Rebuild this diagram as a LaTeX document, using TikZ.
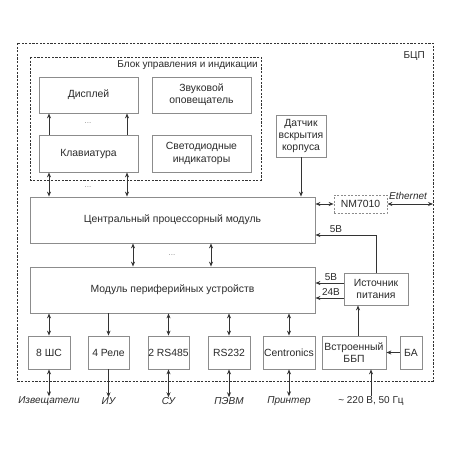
\documentclass[tikz,border=0pt]{standalone}
\usepackage{fontspec}
\setmainfont{Liberation Sans}
\usetikzlibrary{arrows.meta}
\definecolor{boxc}{HTML}{8C8C8C}
\definecolor{arrc}{HTML}{333333}
\definecolor{txtc}{HTML}{2A2A2A}
\begin{document}
\begin{tikzpicture}[x=1pt,y=-1pt,
  box/.style={draw=boxc, line width=0.8pt, fill=white, inner sep=0pt, align=center,
    text=txtc, font=\fontsize{10.4}{12.2}\selectfont},
  dashbox/.style={draw=arrc, line width=0.9pt, dash pattern=on 2.2pt off 1.4pt},
  arr/.style={-{Stealth[length=5pt,width=4pt]}, line width=0.9pt, draw=arrc},
  darr/.style={{Stealth[length=5pt,width=4pt]}-{Stealth[length=5pt,width=4pt]}, line width=0.9pt, draw=arrc},
  lbl/.style={inner sep=0pt, text=txtc, font=\fontsize{10}{12}\selectfont},
  ilbl/.style={inner sep=0pt, text=txtc, font=\fontsize{10}{12}\selectfont\itshape},
  dots/.style={inner sep=0pt, text=black!45, font=\fontsize{8}{10}\selectfont}
]
\useasboundingbox (0,0) rectangle (450,450);
\fill[white] (0,0) rectangle (450,450);

% outer and inner dashed frames
\draw[dashbox] (17,43) rectangle (433,381);
\draw[dashbox] (30,57) rectangle (261,180);
\node[lbl, anchor=east] (bcp) at (425,56) {БЦП};
\node[lbl, anchor=east] (bui) at (258,65) {Блок управления и индикации};

% control block
\node[box, minimum width=99pt, minimum height=36pt] (disp) at (88.5,95) {Дисплей};
\node[box, minimum width=99pt, minimum height=36pt] (zvuk) at (201.5,95) {Звуковой\\оповещатель};
\node[box, minimum width=99pt, minimum height=37pt] (kbd) at (88.5,153.5) {Клавиатура};
\node[box, minimum width=99pt, minimum height=37pt] (led) at (201.5,153.5) {Светодиодные\\индикаторы};

% main modules
\node[box, minimum width=285pt, minimum height=46pt] (cpu) at (172.5,220) {Центральный процессорный модуль};
\node[box, minimum width=285pt, minimum height=46pt] (per) at (172.5,290) {Модуль периферийных устройств};

\node[box, minimum width=50pt, minimum height=42pt] (dat) at (301,136) {Датчик\\вскрытия\\корпуса};
\node[box, draw=boxc, dash pattern=on 2pt off 1.5pt, minimum width=53pt, minimum height=18pt] (nm) at (360.5,204) {NM7010};
\node[box, minimum width=64pt, minimum height=32pt] (ist) at (376,289) {Источник\\питания};

% bottom row
\node[box, minimum width=42pt, minimum height=33pt] (shs) at (49,352.5) {8 ШС};
\node[box, minimum width=41pt, minimum height=33pt] (rele) at (108.5,352.5) {4 Реле};
\node[box, minimum width=41pt, minimum height=33pt] (rs485) at (168.5,352.5) {2 RS485};
\node[box, minimum width=42pt, minimum height=33pt] (rs232) at (229,352.5) {RS232};
\node[box, minimum width=52pt, minimum height=33pt] (cen) at (289,352.5) {Centronics};
\node[box, minimum width=64pt, minimum height=33pt] (bbp) at (354,352.5) {Встроенный\\ББП};
\node[box, minimum width=22pt, minimum height=33pt] (ba) at (411,352.5) {БА};

% bottom labels
\node[ilbl] (l1) at (49,401) {Извещатели};
\node[ilbl] (l2) at (108.5,401) {ИУ};
\node[ilbl] (l3) at (168.5,401) {СУ};
\node[ilbl] (l4) at (229,401) {ПЭВМ};
\node[ilbl] (l5) at (289,401) {Принтер};
\node[lbl] (l6) at (371,401) {\textasciitilde{} 220 В, 50 Гц};

% helper coordinates
\coordinate (x49) at (49,0);
\coordinate (x127) at (127,0);
\coordinate (x133) at (133,0);
\coordinate (x211) at (211,0);
\coordinate (x358) at (358,0);
\coordinate (x371) at (371,0);
\coordinate (x376) at (376,0);
\coordinate (y235) at (0,235);
\coordinate (y283) at (0,283);
\coordinate (y298) at (0,298);
\coordinate (eth) at (433,204);

% arrows in control block
\draw[arr] (kbd.north -| x49) -- (disp.south -| x49);
\draw[arr] (kbd.north -| x127) -- (disp.south -| x127);
\node[dots] (d1) at (88,123) {...};
\draw[darr] (kbd.south -| x49) -- (cpu.north -| x49);
\draw[darr] (kbd.south -| x127) -- (cpu.north -| x127);
\node[dots] (d2) at (88,187) {...};

% cpu <-> peripheral
\draw[darr] (cpu.south -| x133) -- (per.north -| x133);
\draw[darr] (cpu.south -| x211) -- (per.north -| x211);
\node[dots] (d3) at (172,255) {...};

% sensor
\draw[arr] (dat.south) -- (dat.south |- cpu.north);

% ethernet
\draw[darr] (cpu.east |- nm.west) -- (nm.west);
\draw[darr] (nm.east) -- (eth);
\node[ilbl, anchor=south] (ethl) at (408,200) {Ethernet};

% power
\draw[arr] (ist.north -| x376) -- (y235 -| x376) -- (cpu.east |- y235);
\node[lbl, anchor=south] (v1) at (336,233) {5В};
\draw[arr] (ist.west |- y283) -- (per.east |- y283);
\node[lbl, anchor=south] (v2) at (331,281) {5В};
\draw[arr] (ist.west |- y298) -- (per.east |- y298);
\node[lbl, anchor=south] (v3) at (331,296) {24В};

% peripheral to bottom boxes
\draw[darr] (per.south -| shs.north) -- (shs.north);
\draw[arr] (per.south -| rele.north) -- (rele.north);
\draw[darr] (per.south -| rs485.north) -- (rs485.north);
\draw[darr] (per.south -| rs232.north) -- (rs232.north);
\draw[darr] (per.south -| cen.north) -- (cen.north);

% bottom boxes to labels
\draw[darr] (shs.south) -- (l1.north);
\draw[arr] (rele.south) -- (l2.north);
\draw[darr] (rs485.south) -- (l3.north);
\draw[darr] (rs232.south) -- (l4.north);
\draw[darr] (cen.south) -- (l5.north);

% UPS
\draw[arr] (bbp.north -| x358) -- (ist.south -| x358);
\draw[arr] (l6.north -| x371) -- (bbp.south -| x371);
\draw[arr] (ba.west) -- (bbp.east);
\end{tikzpicture}
\end{document}
